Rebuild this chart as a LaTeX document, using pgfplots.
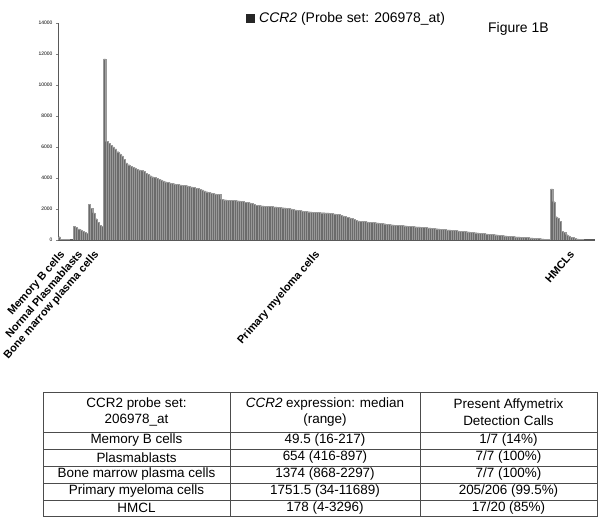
\documentclass[border=0pt]{standalone}
\usepackage{fontspec}
\setmainfont{Liberation Sans}
\usepackage{pgfplots}
\usepackage{pgfplotstable}
\pgfplotsset{compat=1.18}

% CCR2 expression per sample, sorted within each group
\pgfplotstableread{
v
217
62
50
49.5
35
22
16
}\memb
\pgfplotstableread{
v
897
800
720
654
580
500
416
}\plasma
\pgfplotstableread{
v
2297
2050
1750
1374
1150
950
868
}\bmpc
\pgfplotstableread{
v
11689
6350
6250
6120
6000
5880
5700
5560
5420
5200
4980
4860
4760
4700
4650
4580
4520
4480
4420
4300
4220
4150
4090
4030
3980
3930
3880
3820
3760
3720
3690
3660
3630
3600
3580
3560
3540
3520
3500
3470
3430
3390
3350
3320
3280
3230
3170
3120
3080
3040
3000
2970
2950
2940
2620
2600
2590
2580
2570
2560
2550
2540
2530
2510
2480
2450
2420
2400
2350
2300
2250
2230
2210
2200
2190
2180
2170
2160
2140
2130
2120
2100
2090
2070
2060
2040
2010
1980
1950
1920
1900
1880
1860
1850
1830
1820
1800
1790
1780
1770
1765
1760
1755
1748
1730
1710
1690
1660
1640
1610
1560
1510
1460
1420
1390
1330
1270
1230
1215
1200
1190
1175
1160
1150
1140
1120
1100
1085
1070
1050
1030
1010
990
975
965
955
945
935
925
910
900
885
870
860
850
840
830
815
800
790
775
760
745
730
715
700
690
675
660
650
640
625
610
595
580
565
550
535
520
505
490
475
460
445
430
415
400
385
370
355
340
325
310
295
280
265
250
240
228
215
205
195
185
175
165
155
145
135
125
110
100
85
70
60
45
34
}\myeloma
\pgfplotstableread{
v
3296
2470
1500
1420
1200
560
480
340
260
185
171
110
80
50
30
20
14
10
6
4
}\hmcl

\begin{document}
\begin{tikzpicture}
\useasboundingbox (0,0) rectangle (608bp,524bp);
\begin{axis}[
  at={(58bp,284bp)}, anchor=south west,
  scale only axis, width=537bp, height=217bp,
  xmin=-0.5, xmax=247, ymin=0, ymax=14000,
  axis x line=bottom, axis y line=left,
  axis line style={-, black!65},
  x axis line style={line width=1.4bp},
  ytick={0,2000,...,14000},
  scaled y ticks=false,
  /pgf/number format/1000 sep={},
  /pgf/number format/assume math mode=true,
  yticklabel style={font=\fontsize{5}{6}\selectfont},
  tick align=outside, major tick length=2bp,
  xtick={0,8.2,15.6,117.5,235},
  xticklabels={Memory B cells, Normal Plasmablasts, Bone marrow plasma cells, Primary myeloma cells, HMCLs},
  xtick style={draw=none},
  xticklabel style={yshift=-6bp, rotate=49, anchor=north east, inner sep=1bp, font=\fontsize{11}{13}\selectfont\bfseries},
  cellbar/.style={ybar, bar width=1, bar shift=0pt, fill=black!58, draw=black!40, line width=0.2bp},
]
\addplot[cellbar] table[x expr=\coordindex, y=v] {\memb};
\addplot[cellbar] table[x expr=\coordindex+7, y=v] {\plasma};
\addplot[cellbar] table[x expr=\coordindex+14, y=v] {\bmpc};
\addplot[cellbar] table[x expr=\coordindex+21, y=v] {\myeloma};
\addplot[cellbar] table[x expr=\coordindex+227, y=v] {\hmcl};
\end{axis}

% legend and figure tag
\fill[black!85] (246bp,501bp) rectangle (254.5bp,509.5bp);
\node[anchor=west, inner sep=0, font=\fontsize{14}{16}\selectfont] at (259bp,505bp) {\textit{CCR2} (Probe set: 206978\_at)};
\node[anchor=west, inner sep=0, font=\fontsize{14}{16}\selectfont] at (488bp,495.5bp) {Figure 1B};

% summary table
\tikzset{cell/.style={font=\fontsize{13.5}{16.5}\selectfont, align=center, inner sep=0}}
\draw[black!70, line width=0.8bp] (43bp,8bp) rectangle (597bp,132bp);
\foreach \y in {92,75,58,41,24} \draw[black!70, line width=0.8bp] (43bp,\y bp) -- (597bp,\y bp);
\foreach \x in {230,420} \draw[black!70, line width=0.8bp] (\x bp,8bp) -- (\x bp,132bp);
\node[cell] at (136.5bp,112bp) {CCR2 probe set:\\206978\_at};
\node[cell] at (325bp,112bp) {\textit{CCR2} expression: median\\(range)};
\node[cell] at (508.5bp,112bp) {Present Affymetrix\\Detection Calls};
\node[cell] at (136.5bp,83.5bp) {Memory B cells};
\node[cell] at (325bp,83.5bp) {49.5 (16-217)};
\node[cell] at (508.5bp,83.5bp) {1/7 (14\%)};
\node[cell] at (136.5bp,66.5bp) {Plasmablasts};
\node[cell] at (325bp,66.5bp) {654 (416-897)};
\node[cell] at (508.5bp,66.5bp) {7/7 (100\%)};
\node[cell] at (136.5bp,49.5bp) {Bone marrow plasma cells};
\node[cell] at (325bp,49.5bp) {1374 (868-2297)};
\node[cell] at (508.5bp,49.5bp) {7/7 (100\%)};
\node[cell] at (136.5bp,32.5bp) {Primary myeloma cells};
\node[cell] at (325bp,32.5bp) {1751.5 (34-11689)};
\node[cell] at (508.5bp,32.5bp) {205/206 (99.5\%)};
\node[cell] at (136.5bp,16bp) {HMCL};
\node[cell] at (325bp,16bp) {178 (4-3296)};
\node[cell] at (508.5bp,16bp) {17/20 (85\%)};
\end{tikzpicture}
\end{document}
